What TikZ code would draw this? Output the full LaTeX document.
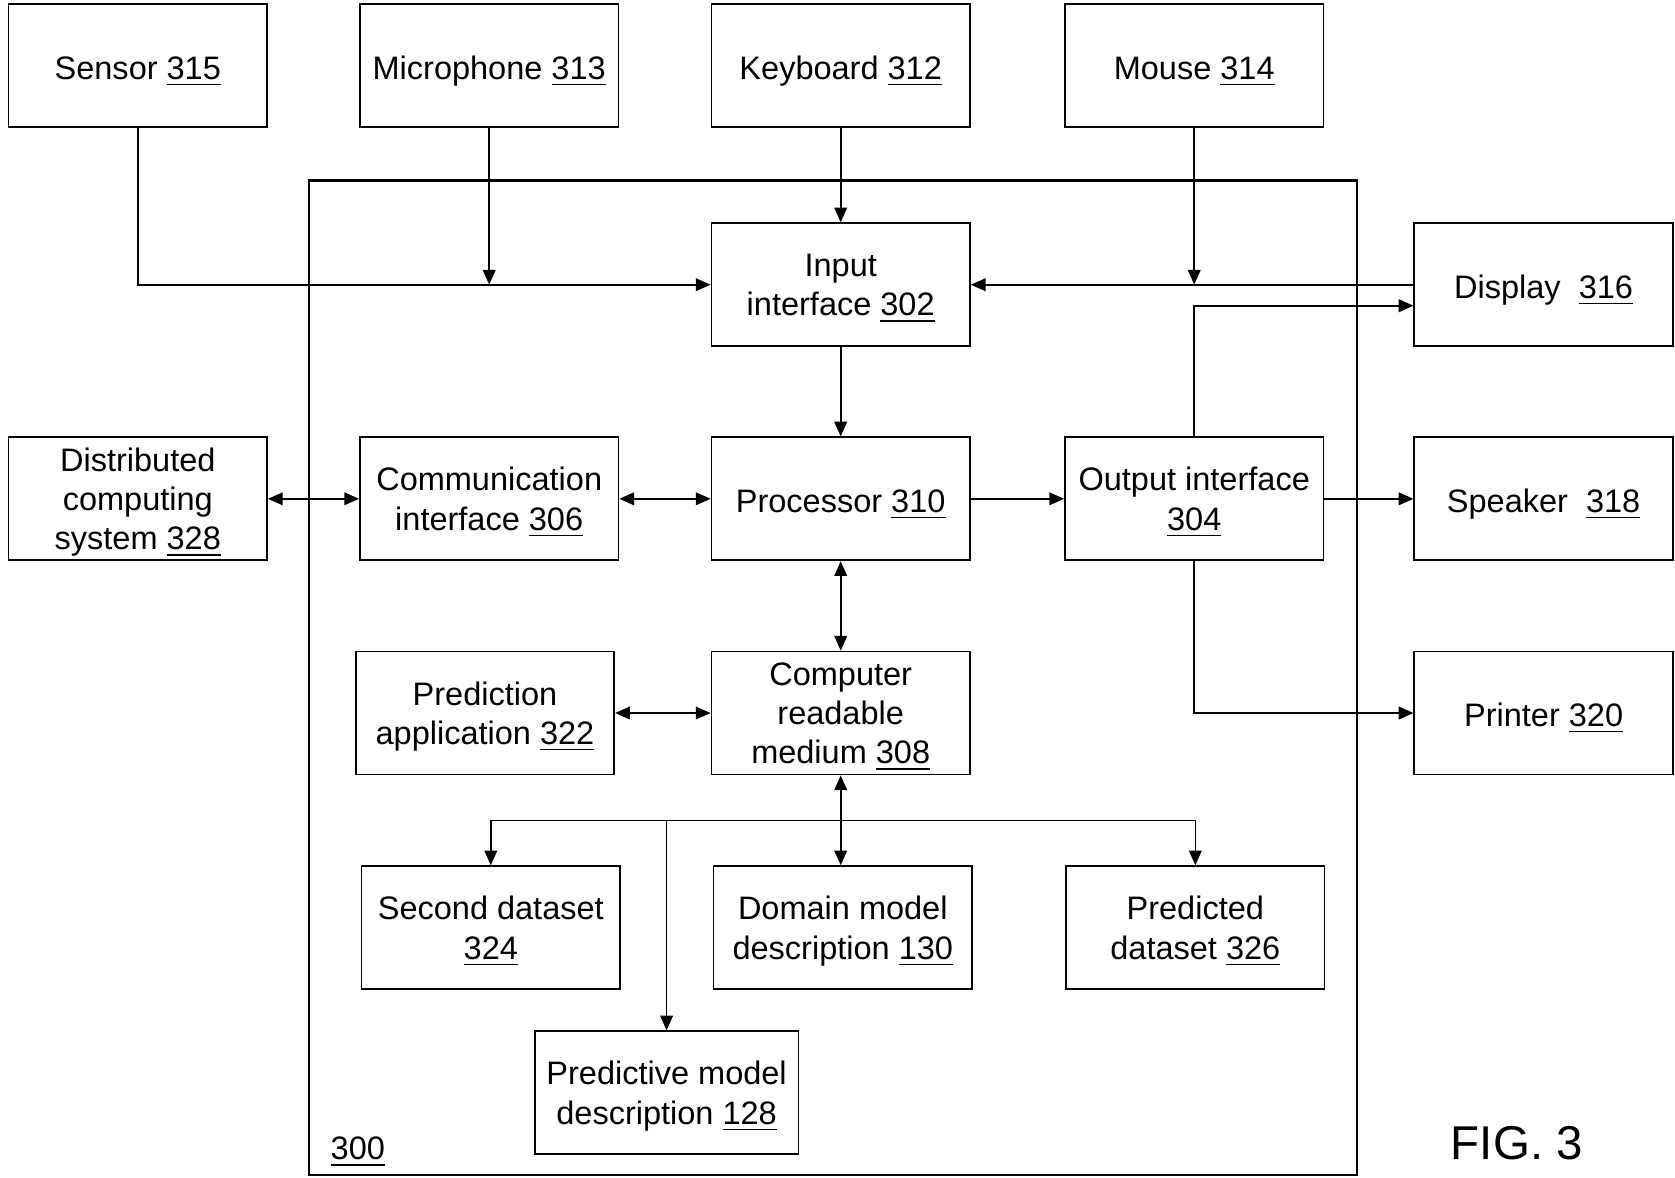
\documentclass[tikz,border=0pt]{standalone}
\usepackage{fontspec}
\setmainfont{Liberation Sans}
\usetikzlibrary{arrows.meta,positioning}
\newcommand{\refno}[1]{\smash{\underline{#1}}}
\tikzstyle{block} = [rectangle, draw, line width=0.5pt, minimum width=2.585cm, minimum height=1.23cm, inner ysep=0pt, align=center, font=\fontsize{9.25}{11.2}\selectfont, text depth=0pt, execute at begin node=\rule{0pt}{7.7pt}]
\tikzstyle{arrow} = [-{Triangle[length=4.2pt,width=3.6pt]}, line width=0.45pt]
\tikzstyle{dblarrow} = [{Triangle[length=4.2pt,width=3.6pt]}-{Triangle[length=4.2pt,width=3.6pt]}, line width=0.45pt]

\begin{document}
\begin{tikzpicture}
    \useasboundingbox (0,0) rectangle (16.75,-11.77);
    \fill[white] (0,0) rectangle (16.75,-11.77);

    % Device 300
    \node[draw, line width=0.6pt, minimum width=10.479cm, minimum height=9.945cm] (dev) at (8.3265,-6.7775) {};
    \node[font=\fontsize{9.25}{11.2}\selectfont] (devnum) at (3.578,-11.52) {\underline{300}};

    % Input devices
    \node[block] (sensor) at (1.378,-0.657) {Sensor \refno{315}};
    \node[block] (mic) at (4.892,-0.657) {Microphone \refno{313}};
    \node[block] (keyboard) at (8.407,-0.657) {Keyboard \refno{312}};
    \node[block] (mouse) at (11.942,-0.657) {Mouse \refno{314}};

    % Interfaces and processor
    \node[block] (input) at (8.407,-2.847) {Input\\interface \refno{302}};
    \node[block] (display) at (15.436,-2.847) {Display\ \ \refno{316}};
    \node[block] (dist) at (1.378,-4.988) {Distributed\\computing\\system \refno{328}};
    \node[block] (comm) at (4.892,-4.988) {Communication\\interface \refno{306}};
    \node[block] (proc) at (8.407,-4.988) {Processor \refno{310}};
    \node[block] (output) at (11.942,-4.988) {Output interface\\\refno{304}};
    \node[block] (speaker) at (15.436,-4.988) {Speaker\ \ \refno{318}};

    % Medium
    \node[block] (predapp) at (4.85,-7.13) {Prediction\\application \refno{322}};
    \node[block] (crm) at (8.407,-7.13) {Computer\\readable\\medium \refno{308}};
    \node[block] (printer) at (15.436,-7.13) {Printer \refno{320}};

    % Stored data
    \node[block] (second) at (4.908,-9.277) {Second dataset\\\refno{324}};
    \node[block] (domain) at (8.428,-9.277) {Domain model\\description \refno{130}};
    \node[block] (predicted) at (11.953,-9.277) {Predicted\\dataset \refno{326}};
    \node[block] (predictive) at (6.666,-10.928) {Predictive model\\description \refno{128}};

    \node[font=\fontsize{13.5}{16}\selectfont] (fig) at (15.168,-11.43) {FIG. 3};

    % Connections
    \coordinate (dispin) at ([yshift=-0.21cm]display.west);
    \coordinate (bus) at ([yshift=-0.449cm]crm.south);
    \draw[arrow] (sensor.south) |- (input.west);
    \draw[arrow] (mic.south) -- (mic.south |- input.west);
    \draw[arrow] (keyboard) -- (input);
    \draw[arrow] (mouse.south) -- (mouse.south |- input.east);
    \draw[arrow] (display.west) -- (input.east);
    \draw[arrow] (input) -- (proc);
    \draw[dblarrow] (dist) -- (comm);
    \draw[dblarrow] (comm) -- (proc);
    \draw[arrow] (proc) -- (output);
    \draw[arrow] (output) -- (speaker);
    \draw[arrow] (output.north) |- (dispin);
    \draw[arrow] (output.south) |- (printer.west);
    \draw[dblarrow] (proc) -- (crm);
    \draw[dblarrow] (predapp) -- (crm);
    \draw[dblarrow] (crm.south) -- (crm.south |- domain.north);
    \draw[arrow] (bus) -| (second.north);
    \draw[arrow] (bus) -| (predicted.north);
    \draw[arrow] (predictive.north |- bus) -- (predictive.north);
\end{tikzpicture}
\end{document}
